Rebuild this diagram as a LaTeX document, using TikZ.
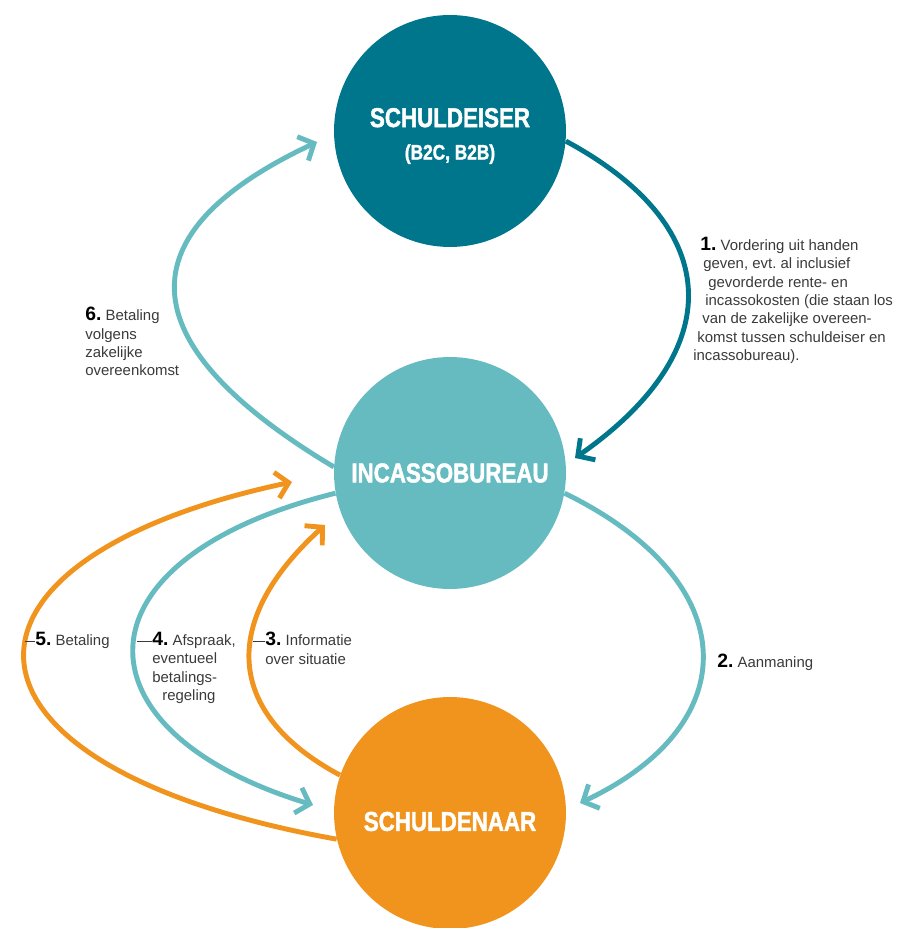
\documentclass[tikz,border=0pt]{standalone}
\usepackage{fontspec}
\setmainfont{Liberation Sans}
\newfontfamily\headfont{Liberation Sans}[FakeStretch=0.82,BoldFeatures={FakeBold=1.6}]
\usetikzlibrary{arrows.meta}

\definecolor{eiser}{HTML}{00768C}
\definecolor{bureau}{HTML}{66BBC0}
\definecolor{naar}{HTML}{F0941E}
\definecolor{txt}{HTML}{3A3A3A}

\newcommand\nr[1]{{\fontsize{11}{10.4}\selectfont\bfseries\color{black}#1}}
\frenchspacing

\begin{document}
\begin{tikzpicture}[x=0.02cm,y=-0.02cm,
   party/.style={circle,minimum size=4.64cm,inner sep=0pt,text=white,align=center,
      font=\headfont\bfseries\fontsize{15.5}{18.5}\selectfont},
   flow/.style={line width=2.8pt,-{Straight Barb[length=7pt,width=15pt]}},
   info/.style={anchor=north west,inner sep=0pt,align=left,text=txt,
      font=\fontsize{8.5}{10.4}\selectfont},
   tick/.style={draw=txt,line width=0.5pt}]
   \useasboundingbox (0,0) rectangle (897,928);

   \node[party,fill=eiser] (eiser) at (450,131) {\raisebox{-0.1cm}[\height][\depth]{SCHULDEISER}\\
      \raisebox{-0.1cm}[\height][\depth]{\fontsize{12}{13}\selectfont(B2C, B2B)}};
   \node[party,fill=bureau] (bureau) at (450,473) {INCASSOBUREAU};
   \node[party,fill=naar] (naar) at (450,813) {\raisebox{-0.17cm}[\height][\depth]{SCHULDENAAR}};

   % arrow tips
   \coordinate (t1) at (575,458);
   \coordinate (t2) at (580,803);
   \coordinate (t3) at (325,525);
   \coordinate (t4) at (313,805);
   \coordinate (t5) at (292,482);
   \coordinate (t6) at (317,142);

   \draw[flow,eiser] (eiser.-5) .. controls (727,228) and (727,352) .. (t1);
   \draw[flow,bureau] (bureau.-10) .. controls (746,582) and (746,725) .. (t2);
   \draw[flow,naar] (naar.161) .. controls (222,712) and (222,618) .. (t3);
   \draw[flow,bureau] (bureau.190) .. controls (70,559) and (70,731) .. (t4);
   \draw[flow,naar] (naar.193) .. controls (-72,766) and (-72,559) .. (t5);
   \draw[flow,bureau] (bureau.177) .. controls (125,342) and (125,232) .. (t6);

   \node[info] (l1) at (693,237) {\hspace*{0.14cm}\nr{1.} Vordering uit handen\\
      \hspace*{0.2cm}geven, evt. al inclusief\\
      \hspace*{0.3cm}gevorderde rente- en\\
      \hspace*{0.24cm}incassokosten (die staan los\\
      \hspace*{0.18cm}van de zakelijke overeen-\\
      \hspace*{0.08cm}komst tussen schuldeiser en\\
      incassobureau).};
   \node[info] (l2) at (717,654) {\nr{2.} Aanmaning};
   \node[info] (l3) at (265,632) {\nr{3.} Informatie\\over situatie};
   \node[info] (l4) at (152,632) {\nr{4.} Afspraak,\\eventueel\\betalings-\\\hspace*{0.2cm}regeling};
   \node[info] (l5) at (35,632) {\nr{5.} Betaling};
   \node[info] (l6) at (85,307) {\nr{6.} Betaling\\volgens\\zakelijke\\overeenkomst};

   \draw[tick] (l3.west |- 0,641) -- ++(-12,0);
   \draw[tick] (l4.west |- 0,641) -- ++(-15,0);
   \draw[tick] (l5.west |- 0,641) -- ++(-10,0);
\end{tikzpicture}
\end{document}
